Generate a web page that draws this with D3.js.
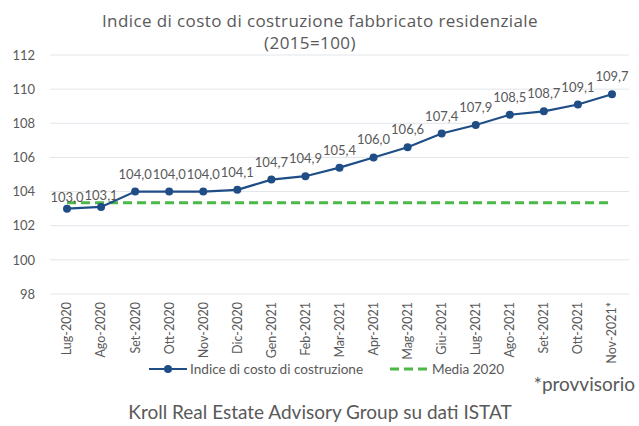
<!DOCTYPE html>
<html>
<head>
<meta charset="utf-8">
<script src="https://cdn.jsdelivr.net/npm/d3@7"></script>
<style>
  body { margin: 0; background: #fff; }
  text { font-family: Lato, "Open Sans", sans-serif; fill: #595959; }
</style>
</head>
<body>
<script>
// months and index values
var months = ["Lug-2020","Ago-2020","Set-2020","Ott-2020","Nov-2020","Dic-2020","Gen-2021","Feb-2021","Mar-2021","Apr-2021","Mag-2021","Giu-2021","Lug-2021","Ago-2021","Set-2021","Ott-2021","Nov-2021*"]
var indice = [103.0,103.1,104.0,104.0,104.0,104.1,104.7,104.9,105.4,106.0,106.6,107.4,107.9,108.5,108.7,109.1,109.7]
var media2020 = 103.35
var yTicks = [98,100,102,104,106,108,110,112]

var width = 639, height = 426
var margin = {top: 55, right: 10, bottom: 132, left: 50}

var svg = d3.select("body").append("svg")
  .attr("width", width)
  .attr("height", height)

var x = d3.scaleBand()
  .domain(months)
  .range([margin.left, width - margin.right])

var y = d3.scaleLinear()
  .domain([98, 112])
  .range([height - margin.bottom, margin.top])

var fmt = function(v){ return d3.format(".1f")(v).replace(".", ",") }

// gridlines
svg.append("g")
  .selectAll("line")
  .data(yTicks)
  .join("line")
    .attr("x1", margin.left)
    .attr("x2", width - margin.right)
    .attr("y1", d => y(d))
    .attr("y2", d => y(d))
    .attr("stroke", "#e1e5ea")
    .attr("stroke-width", 1)

// y axis labels
var yAxis = svg.append("g")
  .attr("transform", "translate(" + margin.left + ",0)")
  .call(d3.axisLeft(y).tickValues(yTicks).tickSize(0).tickPadding(15))
yAxis.select(".domain").remove()
yAxis.selectAll("text")
  .style("font-family", "Lato, sans-serif")
  .style("font-size", "13px")
  .attr("fill", "#595959")

// x axis labels
var xAxis = svg.append("g")
  .attr("transform", "translate(0," + (height - margin.bottom) + ")")
  .call(d3.axisBottom(x).tickSize(0).tickPadding(0))
xAxis.select(".domain").remove()
xAxis.selectAll("text")
  .style("font-family", "Lato, sans-serif")
  .style("font-size", "12.5px")
  .attr("fill", "#595959")
  .attr("text-anchor", "end")
  .attr("transform", "rotate(-90)")
  .attr("x", -8)
  .attr("y", 0)
  .attr("dy", "0.35em")

var cx = d => x(d) + x.bandwidth() / 2

// media 2020 line
svg.append("line")
  .attr("x1", cx(months[0]))
  .attr("x2", cx(months[months.length - 1]))
  .attr("y1", y(media2020))
  .attr("y2", y(media2020))
  .attr("stroke", "#4cb847")
  .attr("stroke-width", 3)
  .attr("stroke-dasharray", "9,5")

// index line
var line = d3.line()
  .x((d, i) => cx(months[i]))
  .y(d => y(d))

svg.append("path")
  .datum(indice)
  .attr("fill", "none")
  .attr("stroke", "#1f4e87")
  .attr("stroke-width", 2.2)
  .attr("d", line)

svg.append("g")
  .selectAll("circle")
  .data(indice)
  .join("circle")
    .attr("cx", (d, i) => cx(months[i]))
    .attr("cy", d => y(d))
    .attr("r", 4)
    .attr("fill", "#1f4e87")

// data labels (first two sit lower, as in the original)
svg.append("g")
  .selectAll("text")
  .data(indice)
  .join("text")
    .attr("x", (d, i) => cx(months[i]))
    .attr("y", (d, i) => y(d) - (i < 2 ? 7 : 13))
    .attr("text-anchor", "middle")
    .style("font-size", "13px")
    .text(d => fmt(d))

// title
var title = svg.append("g")
title.append("text")
  .attr("x", 320)
  .attr("y", 27)
  .attr("text-anchor", "middle")
  .style("font-family", "'Open Sans', sans-serif")
  .style("font-size", "17px")
  .style("letter-spacing", "0.4px")
  .text("Indice di costo di costruzione fabbricato residenziale")
title.append("text")
  .attr("x", 310)
  .attr("y", 49)
  .attr("text-anchor", "middle")
  .style("font-family", "'Open Sans', sans-serif")
  .style("font-size", "17px")
  .style("letter-spacing", "0.4px")
  .text("(2015=100)")

// legend
var leg = svg.append("g").attr("transform", "translate(0,369)")
leg.append("line")
  .attr("x1", 149).attr("x2", 187)
  .attr("stroke", "#1f4e87").attr("stroke-width", 2.2)
leg.append("circle")
  .attr("cx", 168).attr("r", 4).attr("fill", "#1f4e87")
leg.append("text")
  .attr("x", 190).attr("dy", "0.35em")
  .style("font-size", "13.6px")
  .text("Indice di costo di costruzione")
leg.append("line")
  .attr("x1", 390).attr("x2", 428)
  .attr("stroke", "#4cb847").attr("stroke-width", 3)
  .attr("stroke-dasharray", "9,5")
leg.append("text")
  .attr("x", 432).attr("dy", "0.35em")
  .style("font-size", "13.6px")
  .text("Media 2020")

svg.append("text")
  .attr("x", 635)
  .attr("y", 391)
  .attr("text-anchor", "end")
  .style("font-size", "19px")
  .text("*provvisorio")

svg.append("text")
  .attr("x", 320)
  .attr("y", 419)
  .attr("text-anchor", "middle")
  .style("font-size", "19px")
  .text("Kroll Real Estate Advisory Group su dati ISTAT")
</script>
</body>
</html>
